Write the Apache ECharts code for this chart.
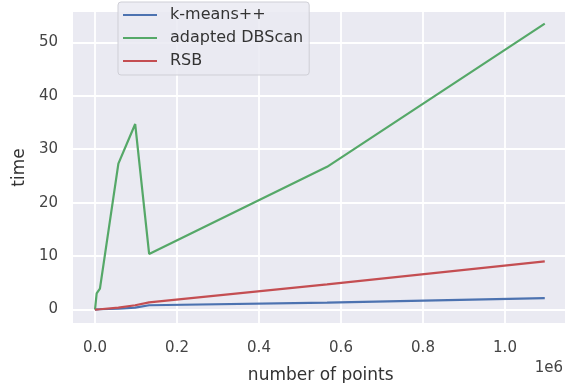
<!DOCTYPE html>
<html>
<head>
<meta charset="utf-8">
<script src="https://cdn.jsdelivr.net/npm/echarts@6/dist/echarts.min.js"></script>
<style>
html,body{margin:0;padding:0;background:#fff;}
#chart{width:565px;height:383px;}
</style>
</head>
<body>
<div id="chart"></div>
<script>
// Data (x in number of points)
const xPoints = [0, 4000, 12000, 57000, 98000, 132000, 566000, 1097000];
const kmeans = [0, 0.02, 0.05, 0.15, 0.35, 0.8, 1.3, 2.15];
const dbscan = [0, 3.0, 3.9, 27.3, 34.7, 10.4, 26.7, 53.5];
const rsb = [0, 0.02, 0.05, 0.35, 0.8, 1.35, 4.7, 9.0];
const seriesNames = ['k-means++', 'adapted DBScan', 'RSB'];
const xTicks = [0, 200000, 400000, 600000, 800000, 1000000];
const yTicks = [0, 10, 20, 30, 40, 50];

const colors = ['#4c72b0', '#55a868', '#c44e52'];
const font = 'DejaVu Sans';

function pairs(ys) { return xPoints.map((x, i) => [x, ys[i]]); }

const chart = echarts.init(document.getElementById('chart'), null, {renderer: 'canvas'});
chart.setOption({
  animation: false,
  backgroundColor: '#ffffff',
  textStyle: {fontFamily: font},
  grid: {
    left: 73, top: 12, width: 495.5, height: 311,
    show: true, backgroundColor: '#eaeaf2', borderWidth: 0,
    containLabel: false, outerBoundsMode: 'none'
  },
  legend: {
    orient: 'vertical',
    left: 118, top: 2,
    padding: [5, 6, 6, 5],
    itemGap: 7,
    itemWidth: 34, itemHeight: 2,
    icon: 'rect',
    backgroundColor: 'rgba(234,234,242,0.85)',
    borderColor: '#cfcfd6', borderWidth: 1, borderRadius: 3,
    textStyle: {fontFamily: font, fontSize: 16, color: '#333', lineHeight: 16, padding: [0, 0, 0, 8]},
    data: seriesNames
  },
  xAxis: {
    type: 'value',
    min: -53700, max: 1154900,
    name: 'number of points',
    nameLocation: 'middle',
    nameGap: 44,
    nameTextStyle: {fontFamily: font, fontSize: 17, color: '#333'},
    axisLine: {show: false},
    axisTick: {show: false, customValues: xTicks},
    axisLabel: {
      customValues: xTicks,
      margin: 18,
      fontFamily: font, fontSize: 15, color: '#444',
      formatter: v => (v / 1e6).toFixed(1)
    },
    splitLine: {show: true, lineStyle: {color: '#ffffff', width: 1.8}}
  },
  yAxis: {
    type: 'value',
    min: -2.52, max: 55.66,
    name: 'time',
    nameLocation: 'middle',
    nameGap: 43,
    nameRotate: 90,
    nameTextStyle: {fontFamily: font, fontSize: 17, color: '#333'},
    axisLine: {show: false},
    axisTick: {show: false, customValues: yTicks},
    axisLabel: {
      customValues: yTicks,
      margin: 15,
      fontFamily: font, fontSize: 15, color: '#444'
    },
    splitLine: {show: true, lineStyle: {color: '#ffffff', width: 1.8}}
  },
  graphic: [{
    type: 'text',
    right: 2, top: 361,
    style: {text: '1e6', fontFamily: font, fontSize: 15, fill: '#444'}
  }],
  series: [
    {name: seriesNames[0], type: 'line', data: pairs(kmeans), symbol: 'none', lineStyle: {width: 2.2, color: colors[0]}, itemStyle: {color: colors[0]}},
    {name: seriesNames[1], type: 'line', data: pairs(dbscan), symbol: 'none', lineStyle: {width: 2.2, color: colors[1]}, itemStyle: {color: colors[1]}},
    {name: seriesNames[2], type: 'line', data: pairs(rsb), symbol: 'none', lineStyle: {width: 2.2, color: colors[2]}, itemStyle: {color: colors[2]}}
  ]
});
</script>
</body>
</html>
